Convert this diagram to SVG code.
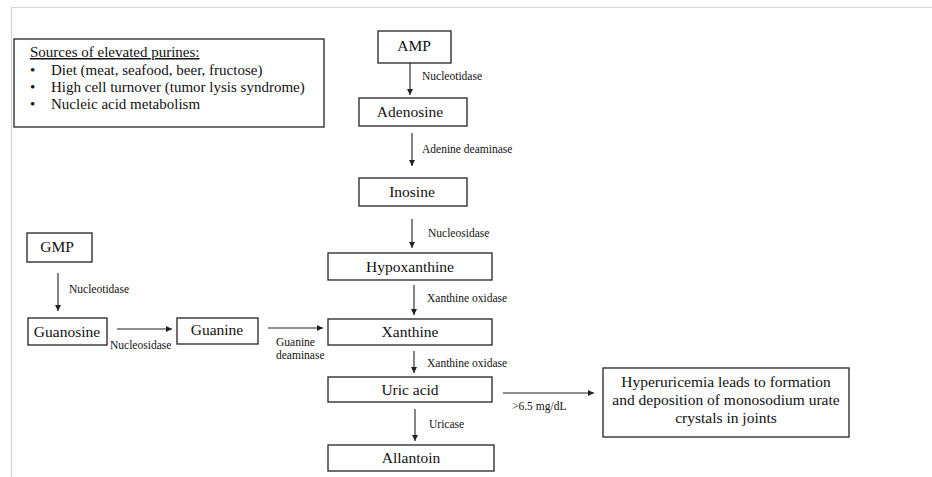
<svg xmlns="http://www.w3.org/2000/svg" width="932" height="477" viewBox="0 0 932 477">
<style>
.box{fill:#fff;stroke:#222;stroke-width:1.3}
.n{font-family:"Liberation Serif","Times New Roman",serif;font-size:15.5px;fill:#111;text-anchor:middle}
.s{font-family:"Liberation Serif","Times New Roman",serif;font-size:15px;fill:#111}
.e{font-family:"Liberation Serif","Times New Roman",serif;font-size:11.5px;fill:#111}
.c{stroke:#222;stroke-width:1.1;fill:none;marker-end:url(#ah)}
</style>
<defs>
<marker id="ah" viewBox="0 0 10 10" refX="10" refY="5" markerWidth="6" markerHeight="6" markerUnits="userSpaceOnUse" orient="auto">
<path d="M0,0 L10,5 L0,10 z" fill="#222"/>
</marker>
</defs>
<rect width="932" height="477" fill="#fff"/>
<path d="M11.5,477 V7.5 H932" fill="none" stroke="#d4d4d4" stroke-width="1.2"/>

<g id="sources">
<rect class="box" x="14" y="39" width="310" height="88"/>
<text class="s" x="30" y="57" text-decoration="underline">Sources of elevated purines:</text>
<text class="s" x="30" y="75">•</text><text class="s" x="51" y="75">Diet (meat, seafood, beer, fructose)</text>
<text class="s" x="30" y="92">•</text><text class="s" x="51" y="92">High cell turnover (tumor lysis syndrome)</text>
<text class="s" x="30" y="109">•</text><text class="s" x="51" y="109">Nucleic acid metabolism</text>
</g>

<g id="amp"><rect class="box" x="378" y="31" width="73" height="32"/><text class="n" x="414" y="51">AMP</text></g>
<g id="adenosine"><rect class="box" x="359" y="98" width="108" height="28"/><text class="n" x="410" y="117">Adenosine</text></g>
<g id="inosine"><rect class="box" x="359" y="178" width="108" height="28"/><text class="n" x="412" y="197">Inosine</text></g>
<g id="hypoxanthine"><rect class="box" x="328" y="253" width="164" height="27"/><text class="n" x="410" y="272">Hypoxanthine</text></g>
<g id="xanthine"><rect class="box" x="328" y="319" width="164" height="26"/><text class="n" x="410" y="337">Xanthine</text></g>
<g id="uricacid"><rect class="box" x="328" y="377" width="164" height="25"/><text class="n" x="410" y="395">Uric acid</text></g>
<g id="allantoin"><rect class="box" x="328" y="445" width="166" height="26"/><text class="n" x="411" y="463">Allantoin</text></g>
<g id="gmp"><rect class="box" x="27" y="233" width="65" height="29"/><text class="n" x="57" y="252">GMP</text></g>
<g id="guanosine"><rect class="box" x="28" y="318" width="79" height="27"/><text class="n" x="67" y="337">Guanosine</text></g>
<g id="guanine"><rect class="box" x="177" y="318" width="81" height="26"/><text class="n" x="217" y="335">Guanine</text></g>
<g id="hyperuricemia"><rect class="box" x="603" y="368" width="246" height="69"/>
<text class="n" x="726" y="387">Hyperuricemia leads to formation</text>
<text class="n" x="726" y="405">and deposition of monosodium urate</text>
<text class="n" x="726" y="423">crystals in joints</text>
</g>

<g id="connectors">
<line class="c" x1="410" y1="63" x2="410" y2="95"/>
<line class="c" x1="412" y1="133" x2="412" y2="166"/>
<line class="c" x1="412" y1="219" x2="412" y2="248"/>
<line class="c" x1="414" y1="285" x2="414" y2="315"/>
<line class="c" x1="414" y1="351" x2="414" y2="373"/>
<line class="c" x1="415" y1="409" x2="415" y2="441"/>
<line class="c" x1="58" y1="273" x2="58" y2="311"/>
<line class="c" x1="117" y1="329" x2="172" y2="329"/>
<line class="c" x1="268" y1="328" x2="323" y2="328"/>
<line class="c" x1="503" y1="393" x2="594" y2="393"/>
<text class="e" x="422" y="80">Nucleotidase</text>
<text class="e" x="422" y="153">Adenine deaminase</text>
<text class="e" x="428" y="237">Nucleosidase</text>
<text class="e" x="427" y="302">Xanthine oxidase</text>
<text class="e" x="427" y="367">Xanthine oxidase</text>
<text class="e" x="429" y="428">Uricase</text>
<text class="e" x="69" y="293">Nucleotidase</text>
<text class="e" x="110" y="349">Nucleosidase</text>
<text class="e" x="276" y="346">Guanine</text>
<text class="e" x="276" y="359">deaminase</text>
<text class="e" x="512" y="410">&gt;6.5 mg/dL</text>
</g>
</svg>
